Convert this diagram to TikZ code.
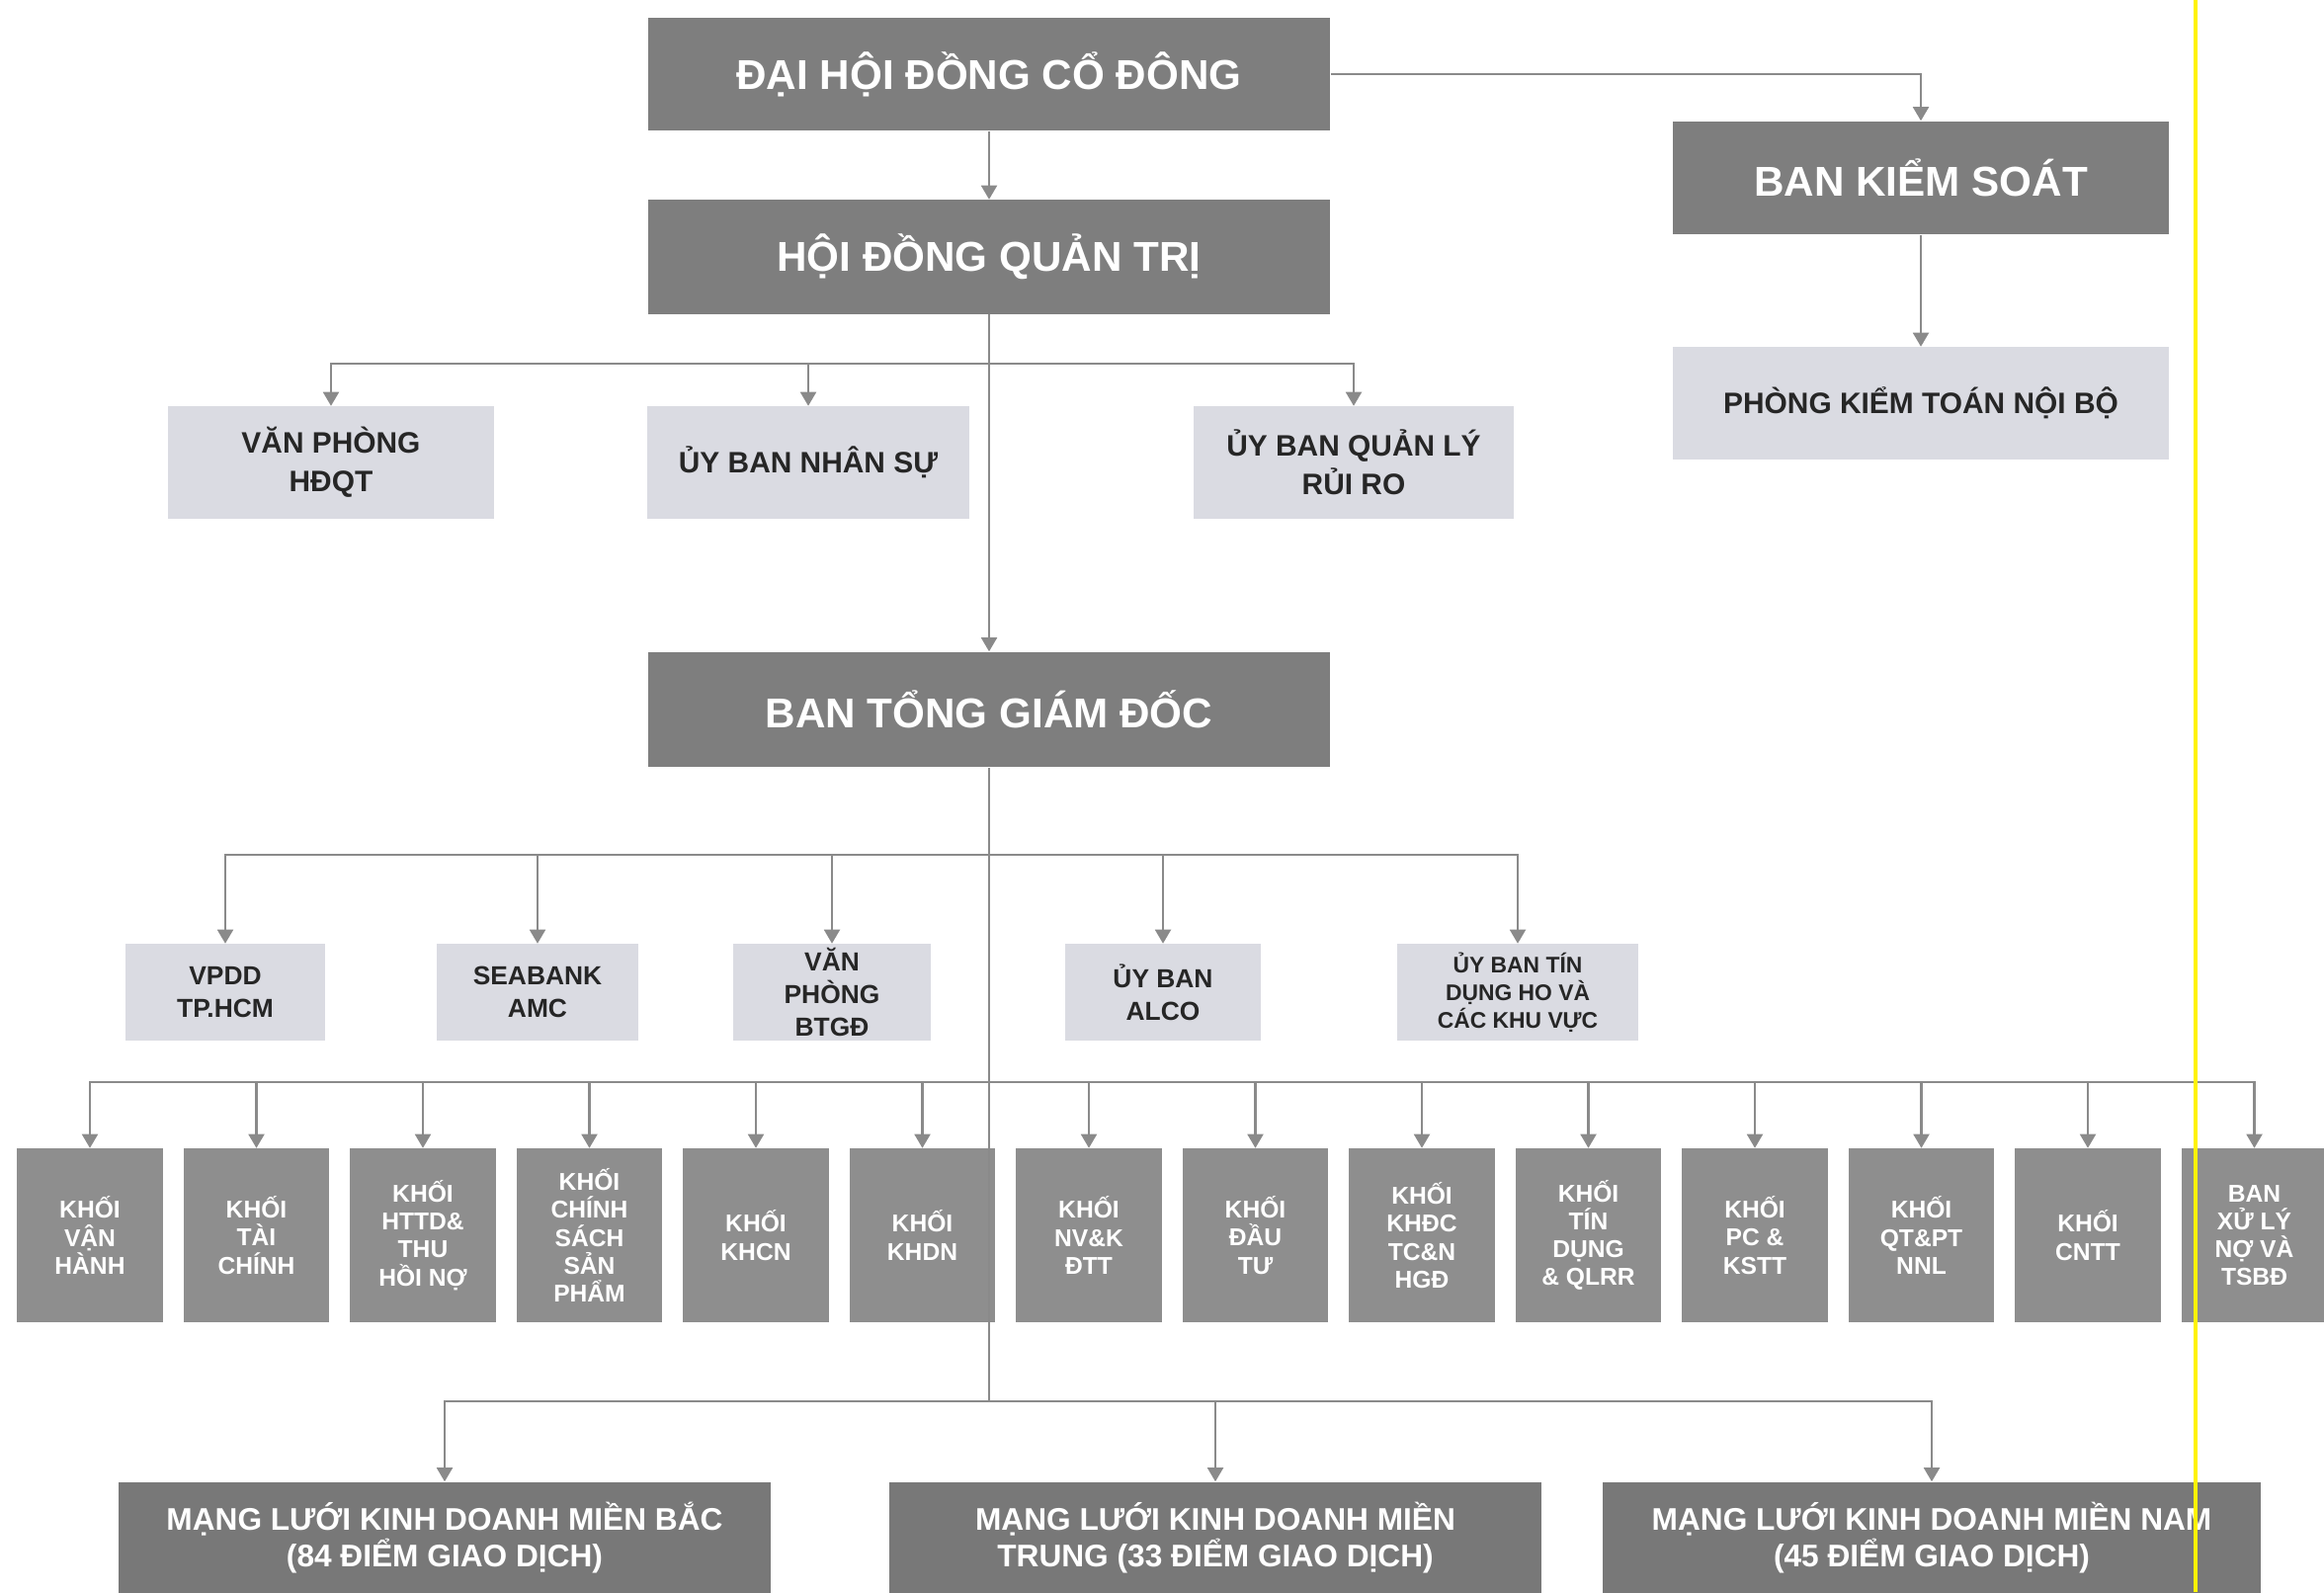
\documentclass[tikz,border=0pt]{standalone}
\usepackage{fontspec}
\setmainfont{Liberation Sans}
\usetikzlibrary{arrows.meta}
\definecolor{boxdark}{HTML}{7E7E7E}
\definecolor{boxunit}{HTML}{8E8E8E}
\definecolor{boxnet}{HTML}{787878}
\definecolor{boxlight}{HTML}{DADBE2}
\definecolor{txtdark}{HTML}{262626}
\definecolor{linkgray}{HTML}{8A8A8A}
\tikzset{
  head/.style={fill=boxdark,text=white,font=\bfseries\fontsize{12}{14}\selectfont,inner sep=0pt,align=center},
  staff/.style={fill=boxlight,text=txtdark,font=\bfseries\fontsize{8.5}{11}\selectfont,inner sep=0pt,align=center,minimum height=1.13cm},
  desk/.style={fill=boxlight,text=txtdark,font=\bfseries\fontsize{7.5}{9.5}\selectfont,inner sep=0pt,align=center,minimum height=0.97cm},
  unit/.style={fill=boxunit,text=white,font=\bfseries\fontsize{7}{8}\selectfont,inner sep=0pt,align=center,minimum width=1.47cm,minimum height=1.75cm},
  net/.style={fill=boxnet,text=white,font=\bfseries\fontsize{9}{10.5}\selectfont,inner sep=0pt,align=center,minimum height=1.12cm},
  link/.style={draw=linkgray,line width=0.7pt},
  tip/.style={-{Triangle[width=4.5pt,length=4pt]}}
}
\begin{document}
\begin{tikzpicture}[x=0.01cm,y=-0.01cm]
    \useasboundingbox (0,0) rectangle (2352,1611);
    \fill[white] (0,0) rectangle (2352,1611);
    \node[head,minimum width=6.9cm,minimum height=1.14cm] (dhdcd) at (1001,75) {ĐẠI HỘI ĐỒNG CỔ ĐÔNG};
    \node[head,minimum width=6.9cm,minimum height=1.15cm] (hdqt) at (1001,260) {HỘI ĐỒNG QUẢN TRỊ};
    \node[head,minimum width=5.02cm,minimum height=1.14cm] (bks) at (1944,180) {BAN KIỂM SOÁT};
    \node[staff,minimum width=5.02cm] (pktnb) at (1944,408) {PHÒNG KIỂM TOÁN NỘI BỘ};
    \node[staff,minimum width=3.3cm] (vphdqt) at (335,468) {VĂN PHÒNG\\HĐQT};
    \node[staff,minimum width=3.26cm] (ubns) at (818,468) {ỦY BAN NHÂN SỰ};
    \node[staff,minimum width=3.23cm] (ubqlrr) at (1370,468) {ỦY BAN QUẢN LÝ\\RỦI RO};
    \node[head,minimum width=6.9cm,minimum height=1.16cm] (tgd) at (1001,718) {BAN TỔNG GIÁM ĐỐC};
    \node[desk,minimum width=2.01cm] (vpdd) at (228,1004) {VPDD\\TP.HCM};
    \node[desk,minimum width=2.03cm] (amc) at (544,1004) {SEABANK\\AMC};
    \node[desk,minimum width=2cm] (vpbtgd) at (842,1004) {VĂN\\PHÒNG\\BTGĐ};
    \node[desk,minimum width=1.98cm] (alco) at (1177,1004) {ỦY BAN\\ALCO};
    \node[desk,minimum width=2.44cm,font=\bfseries\fontsize{6.5}{8}\selectfont] (ubtd) at (1536,1004) {ỦY BAN TÍN\\DỤNG HO VÀ\\CÁC KHU VỰC};
    \node[unit] (k1) at (91,1250) {KHỐI\\VẬN\\HÀNH};
    \node[unit] (k2) at (259.5,1250) {KHỐI\\TÀI\\CHÍNH};
    \node[unit] (k3) at (428,1250) {KHỐI\\HTTD\&\\THU\\HỒI NỢ};
    \node[unit] (k4) at (596.5,1250) {KHỐI\\CHÍNH\\SÁCH\\SẢN\\PHẨM};
    \node[unit] (k5) at (765,1250) {KHỐI\\KHCN};
    \node[unit] (k6) at (933.5,1250) {KHỐI\\KHDN};
    \node[unit] (k7) at (1102,1250) {KHỐI\\NV\&K\\ĐTT};
    \node[unit] (k8) at (1270.5,1250) {KHỐI\\ĐẦU\\TƯ};
    \node[unit] (k9) at (1439,1250) {KHỐI\\KHĐC\\TC\&N\\HGĐ};
    \node[unit] (k10) at (1607.5,1250) {KHỐI\\TÍN\\DỤNG\\\& QLRR};
    \node[unit] (k11) at (1776,1250) {KHỐI\\PC \&\\KSTT};
    \node[unit] (k12) at (1944.5,1250) {KHỐI\\QT\&PT\\NNL};
    \node[unit] (k13) at (2113,1250) {KHỐI\\CNTT};
    \node[unit] (k14) at (2281.5,1250) {BAN\\XỬ LÝ\\NỢ VÀ\\TSBĐ};
    \node[net,minimum width=6.59cm] (mlbac) at (450,1556) {MẠNG LƯỚI KINH DOANH MIỀN BẮC\\(84 ĐIỂM GIAO DỊCH)};
    \node[net,minimum width=6.59cm] (mltrung) at (1230,1556) {MẠNG LƯỚI KINH DOANH MIỀN\\TRUNG (33 ĐIỂM GIAO DỊCH)};
    \node[net,minimum width=6.66cm] (mlnam) at (1955,1556) {MẠNG LƯỚI KINH DOANH MIỀN NAM\\(45 ĐIỂM GIAO DỊCH)};
    \coordinate (j1) at (1001,368);
    \coordinate (j2) at (1001,865);
    \coordinate (j3) at (1001,1095);
    \coordinate (j4) at (1001,1418);
    \draw[link,tip] (dhdcd) -- (hdqt);
    \draw[link,tip] (dhdcd.east) -| (bks);
    \draw[link,tip] (bks) -- (pktnb);
    \draw[link,tip] (hdqt) -- (tgd);
    \draw[link,tip] (j1) -| (vphdqt);
    \draw[link,tip] (j1) -| (ubns);
    \draw[link,tip] (j1) -| (ubqlrr);
    \draw[link] (tgd) -- (j4);
    \draw[link,tip] (j2) -| (vpdd);
    \draw[link,tip] (j2) -| (amc);
    \draw[link,tip] (j2) -| (vpbtgd);
    \draw[link,tip] (j2) -| (alco);
    \draw[link,tip] (j2) -| (ubtd);
    \draw[link,tip] (j3) -| (k1);
    \draw[link,tip] (j3) -| (k2);
    \draw[link,tip] (j3) -| (k3);
    \draw[link,tip] (j3) -| (k4);
    \draw[link,tip] (j3) -| (k5);
    \draw[link,tip] (j3) -| (k6);
    \draw[link,tip] (j3) -| (k7);
    \draw[link,tip] (j3) -| (k8);
    \draw[link,tip] (j3) -| (k9);
    \draw[link,tip] (j3) -| (k10);
    \draw[link,tip] (j3) -| (k11);
    \draw[link,tip] (j3) -| (k12);
    \draw[link,tip] (j3) -| (k13);
    \draw[link,tip] (j3) -| (k14);
    \draw[link,tip] (j4) -| (mlbac);
    \draw[link,tip] (j4) -| (mltrung);
    \draw[link,tip] (j4) -| (mlnam);
    \draw[yellow,line width=0.9pt] (2222,0) -- (2222,1611);
\end{tikzpicture}
\end{document}
